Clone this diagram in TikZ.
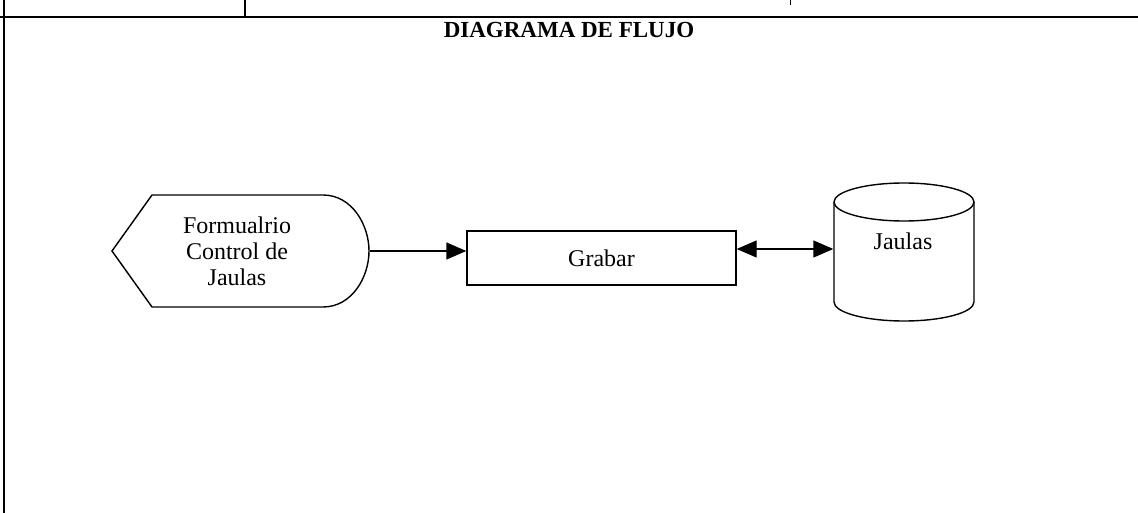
\documentclass[tikz,border=0pt]{standalone}
\usepackage{fontspec}
\setmainfont{Liberation Serif}
\usetikzlibrary{arrows.meta}
\begin{document}
\begin{tikzpicture}[x=1pt,y=-1pt,
  line width=1.4pt,
  lbl/.style={font=\fontsize{24}{26}\selectfont, align=center, inner sep=0pt}]
\useasboundingbox (0,0) rectangle (1138,513);
% frame
\draw[line width=1.2pt] (0,17) -- (1138,17);
\draw[line width=1.4pt] (4,0) -- (4,513);
\draw[line width=1.2pt] (245,0) -- (245,17);
\draw[line width=1pt] (790,0) -- (790,5);
% title
\node[font=\bfseries\fontsize{23}{26}\selectfont, inner sep=0pt, anchor=base] (title) at (569,38) {DIAGRAMA DE FLUJO};
% display shape
\draw (112,251) -- (152,195) -- (323,195)
  .. controls (352,195) and (369,225) .. (369,251)
  .. controls (369,277) and (352,307) .. (323,307)
  -- (152,307) -- cycle;
\node[minimum width=257pt, minimum height=112pt, inner sep=0pt] (form) at (240.5,251) {};
\node[lbl] (formtxt) at (237,251) {Formualrio\\Control de\\Jaulas};
% process
\node[draw, minimum width=269pt, minimum height=54pt, inner sep=0pt, lbl] (grabar) at (601.5,258) {Grabar};
% database
\draw (834,202) -- (834,302) arc[start angle=180, end angle=0, x radius=70, y radius=19] -- (974,202);
\draw (904,202) ellipse [x radius=70, y radius=19];
\node[minimum width=140pt, minimum height=100pt, inner sep=0pt] (db) at (904,249) {};
\node[lbl] (dbtxt) at (903,241) {Jaulas};
% connectors
\draw[-{Triangle[length=20pt,width=17pt]}] (form.east) -- (form.east -| grabar.west);
\draw[{Triangle[length=20pt,width=17pt]}-{Triangle[length=20pt,width=17pt]}] (grabar.east |- db.west) -- (db.west);
\end{tikzpicture}
\end{document}
